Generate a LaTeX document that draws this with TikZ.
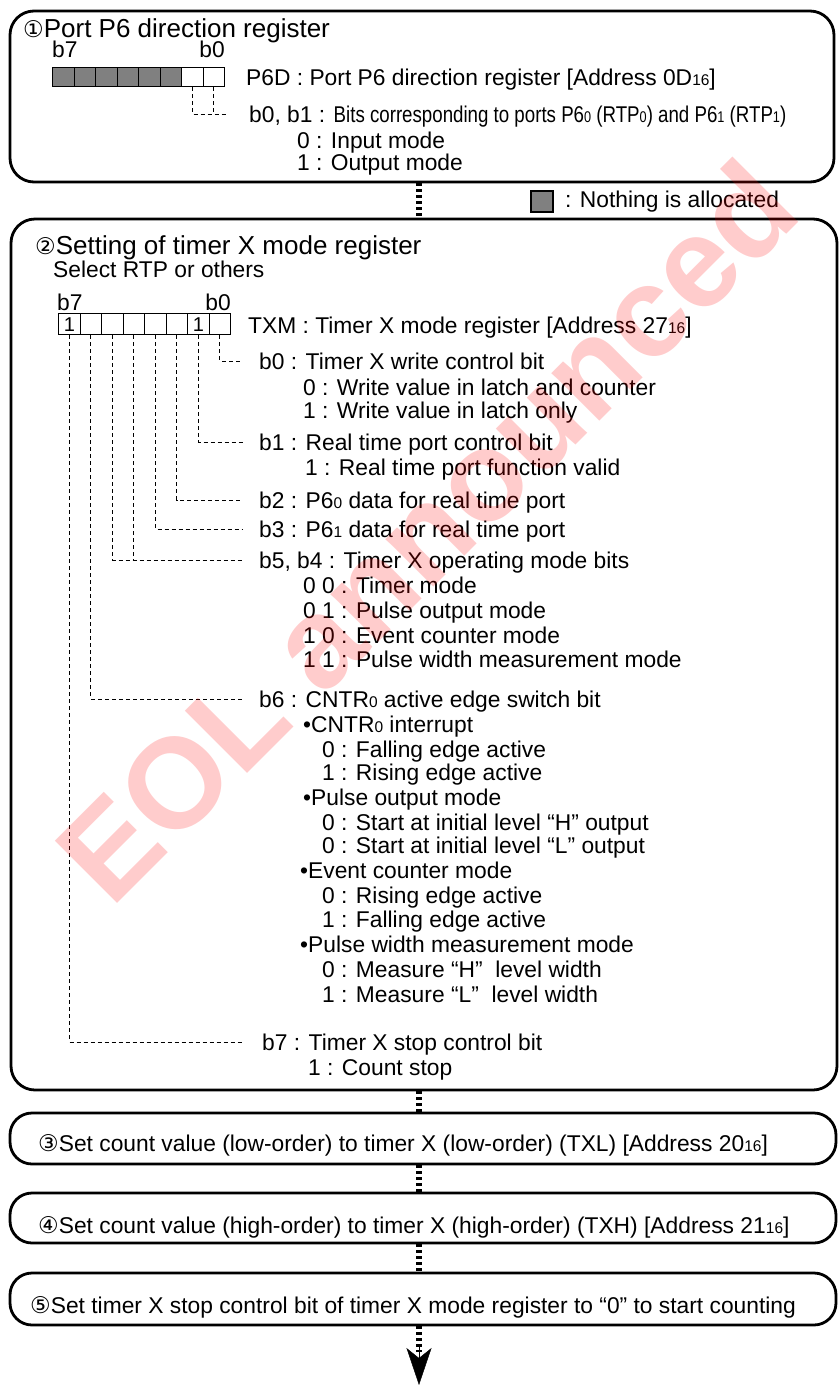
\documentclass[tikz,border=0pt]{standalone}
\usepackage{fontspec}
\setmainfont{Liberation Sans}
\newfontfamily\narrowfont[FakeStretch=0.82]{Liberation Sans}
\newfontfamily\circfont{DejaVu Sans}
\usetikzlibrary{arrows.meta,positioning,calc}
\definecolor{noalloc}{HTML}{808080}
\newcommand{\bodysize}{\fontsize{22.8}{24.6}\selectfont}
\newcommand{\titlesize}{\fontsize{26}{28}\selectfont}
\newcommand{\sbs}[1]{{\fontsize{15.5}{15.5}\selectfont #1}}
\newcommand{\cnum}[1]{{\circfont\fontsize{23}{23}\selectfont #1}}
\tikzset{
  panel/.style={draw, line width=2.8pt, rounded corners=24pt, inner sep=0pt},
  pill/.style={panel, rounded corners=22pt, minimum width=826pt},
  txt/.style={anchor=base west, inner sep=0pt, font=\bodysize},
  hdr/.style={txt, text height=16pt, text depth=0pt},
  ttl/.style={txt, font=\titlesize},
  bitcell/.style={draw, line width=1.3pt, minimum width=21.5pt, inner sep=0pt, anchor=north west, font=\fontsize{20}{20}\selectfont},
  lead/.style={line width=0.9pt, dash pattern=on 4pt off 3pt},
  flow/.style={line width=6pt, dash pattern=on 3pt off 3pt},
  wmark/.style={anchor=base west, inner sep=0pt, rotate=45, text=red, text opacity=0.2, font=\fontsize{128}{128}\selectfont\bfseries}
}

\begin{document}
\begin{tikzpicture}[x=1pt, y=-1pt]
\useasboundingbox (0,0) rectangle (840,1385);
% panels
\node[panel, minimum width=824pt, minimum height=171pt] (p1) at (422,96.5) {};
\node[panel, minimum width=826pt, minimum height=871pt] (p2) at (424,654.5) {};
\node[pill, minimum height=51pt] (p3) at (423,1138.5) {};
\node[pill, minimum height=50pt] (p4) at (423,1218) {};
\node[pill, minimum height=52pt] (p5) at (423,1299) {};

% (1) port P6 direction register
\node[ttl] (t1) at (23,37) {\cnum{①}Port P6 direction register};
\node[txt] (d7lbl) at (52,57) {b7};
\node[txt, anchor=base east] (d0lbl) at (225,57) {b0};
\foreach \i/\c in {7/noalloc,6/noalloc,5/noalloc,4/noalloc,3/noalloc,2/noalloc,1/white,0/white}
  \node[bitcell, fill=\c, minimum height=19pt] (d\i) at ({52+(7-\i)*21.5},67) {};
\node[txt] (p6d) at (246,85) {P6D : Port P6 direction register [Address 0D\sbs{16}]};
\node[hdr] (h01) at (249,122) {b0, b1 : {\narrowfont Bits corresponding to ports P6\sbs{0} (RTP\sbs{0}) and P6\sbs{1} (RTP\sbs{1})}};
\node[txt] (in0) at (297,148) {0 : Input mode};
\node[txt] (in1) at (297,170) {1 : Output mode};
\draw[lead] (d1.south) |- ([xshift=-22pt]h01.west);
\draw[lead] (d0.south) -- (d0.south |- h01.west);

% legend
\node[draw, line width=1.3pt, fill=noalloc, minimum width=22pt, minimum height=21pt, inner sep=0pt] (key) at (542,201.5) {};
\node[txt] (keytxt) at (565,207) {: Nothing is allocated};

% (2) timer X mode register
\node[ttl] (t2) at (35,254) {\cnum{②}Setting of timer X mode register};
\node[txt] (t2sub) at (53,277) {Select RTP or others};
\node[txt] (m7lbl) at (57,310) {b7};
\node[txt, anchor=base east] (m0lbl) at (231,310) {b0};
\foreach \i/\v in {7/1,6/,5/,4/,3/,2/,1/1,0/}
  \node[bitcell, minimum height=21pt] (m\i) at ({58+(7-\i)*21.5},313) {\v};
\node[txt] (txm) at (248,333) {TXM : Timer X mode register [Address 27\sbs{16}]};

\node[hdr] (hb0) at (259,369) {b0 : Timer X write control bit};
\node[txt] (w0) at (303,395) {0 : Write value in latch and counter};
\node[txt] (w1) at (303,418) {1 : Write value in latch only};
\node[hdr] (hb1) at (259,450) {b1 : Real time port control bit};
\node[txt] (rt1) at (305,475) {1 : Real time port function valid};
\node[hdr] (hb2) at (259,508) {b2 : P6\sbs{0} data for real time port};
\node[hdr] (hb3) at (259,537) {b3 : P6\sbs{1} data for real time port};
\node[hdr] (hb54) at (259,568) {b5, b4 : Timer X operating mode bits};
\foreach \y/\s [count=\k] in {593/{0 0 : Timer mode},618/{0 1 : Pulse output mode},
    643/{1 0 : Event counter mode},667/{1 1 : Pulse width measurement mode}}
  \node[txt] (md\k) at (303,\y) {\s};
\node[hdr] (hb6) at (259,707) {b6 : CNTR\sbs{0} active edge switch bit};
\foreach \x/\y/\s [count=\k] in {303/732/{•CNTR\sbs{0} interrupt},322/757/{0 : Falling edge active},
    322/780/{1 : Rising edge active},303/805/{•Pulse output mode},
    322/830/{0 : Start at initial level “H” output},322/853/{0 : Start at initial level “L” output},
    300/878/{•Event counter mode},322/903/{0 : Rising edge active},322/927/{1 : Falling edge active},
    300/952/{•Pulse width measurement mode},322/977/{0 : Measure “H”\ \ level width},
    322/1002/{1 : Measure “L”\ \ level width}}
  \node[txt] (eg\k) at (\x,\y) {\s};
\node[hdr] (hb7) at (262,1050) {b7 : Timer X stop control bit};
\node[txt] (cs) at (308,1075) {1 : Count stop};

% leaders from the bits
\draw[lead] (m0.south) |- ([xshift=-16pt]hb0.west);
\draw[lead] (m1.south) |- ([xshift=-16pt]hb1.west);
\draw[lead] (m2.south) |- ([xshift=-16pt]hb2.west);
\draw[lead] (m3.south) |- ([xshift=-16pt]hb3.west);
\draw[lead] (m5.south) |- ([xshift=-16pt]hb54.west);
\draw[lead] (m4.south) -- (m4.south |- hb54.west);
\draw[lead] (m6.south) |- ([xshift=-16pt]hb6.west);
\draw[lead] (m7.south) |- ([xshift=-19pt]hb7.west);

% (3)-(5)
\node[txt] (s3) at (38,1151) {\cnum{③}Set count value (low-order) to timer X (low-order) (TXL) [Address 20\sbs{16}]};
\node[txt] (s4) at (38,1233) {\cnum{④}Set count value (high-order) to timer X (high-order) (TXH) [Address 21\sbs{16}]};
\node[txt] (s5) at (30,1313) {\cnum{⑤}Set timer X stop control bit of timer X mode register to “0” to start counting};

% flow
\coordinate (spine) at (419,0);
\coordinate (tail) at (419,1352);
\coordinate (headbase) at (419,1347);
\coordinate (tip) at (419,1385);
\draw[flow] (spine |- p1.south) -- (spine |- p2.north);
\draw[flow] (spine |- p2.south) -- (spine |- p3.north);
\draw[flow] (spine |- p3.south) -- (spine |- p4.north);
\draw[flow] (spine |- p4.south) -- (spine |- p5.north);
\draw[flow] (spine |- p5.south) -- (tail);
\draw[line width=0.4pt, -{Stealth[length=37pt, width=25pt, inset=10pt]}] (headbase) -- (tip);

% stamp
\node[wmark] (eol) at (111,910) {EOL announced};
\end{tikzpicture}
\end{document}
